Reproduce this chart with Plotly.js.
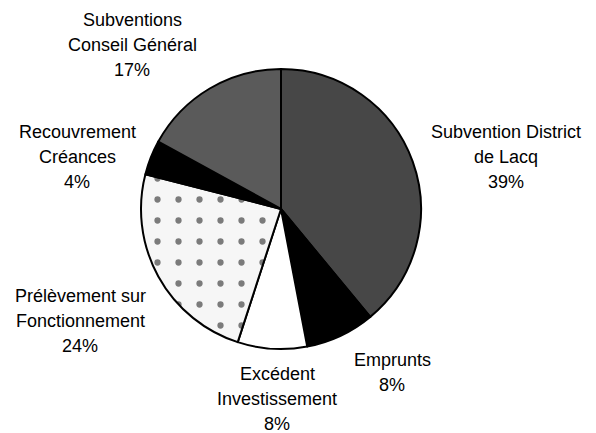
<!DOCTYPE html>
<html>
<head>
<meta charset="utf-8">
<script src="https://cdn.plot.ly/plotly-3.0.1.min.js"></script>
<style>html,body{margin:0;padding:0;background:#fff;}#chart{width:596px;height:433px;}</style>
</head>
<body>
<div id="chart"></div>
<script>
// ---- data ----
const categories = [
  "Subvention District<br>de Lacq",
  "Emprunts",
  "Excédent<br>Investissement",
  "Prélèvement sur<br>Fonctionnement",
  "Recouvrement<br>Créances",
  "Subventions<br>Conseil Général"
];
const values = [39, 8, 8, 24, 4, 17];

// ---- styles / layout (not data) ----
const sliceColors = ["#474747", "#000000", "#ffffff", "#f6f6f6", "#000000", "#5a5a5a"];
const slicePatterns = ["", "", "", ".", "", ""];
const labelCenters = [ // pixel x of text centre, pixel y of first line centre
  [506, 132], [392, 360], [277, 374], [80, 296], [77, 132], [132, 20]
];
const lineGap = 25;
const W = 596, H = 433;
const cx = 281, cy = 209, R = 140;

const total = values.reduce((a, b) => a + b, 0);
const annotations = [];
categories.forEach((c, i) => {
  const lines = c.split("<br>").concat([Math.round(values[i] / total * 100) + "%"]);
  lines.forEach((t, k) => {
    annotations.push({
      text: t, showarrow: false, xref: "paper", yref: "paper",
      x: labelCenters[i][0] / W, y: 1 - (labelCenters[i][1] + k * lineGap) / H,
      xanchor: "center", yanchor: "middle",
      font: {family: "Liberation Sans, Arial, sans-serif", size: 18, color: "#000"}
    });
  });
});

const trace = {
  type: "pie",
  labels: categories,
  values: values,
  sort: false,
  direction: "clockwise",
  rotation: 0,
  textinfo: "none",
  hoverinfo: "label+percent",
  domain: {x: [(cx - R) / W, (cx + R) / W], y: [(H - cy - R) / H, (H - cy + R) / H]},
  marker: {
    colors: sliceColors,
    line: {color: "#000", width: 2},
    pattern: {
      shape: slicePatterns,
      fgcolor: "#000",
      bgcolor: sliceColors,
      size: 21,
      solidity: 0.07,
      fillmode: "overlay"
    }
  }
};

Plotly.newPlot("chart", [trace], {
  width: W, height: H,
  margin: {l: 0, r: 0, t: 0, b: 0},
  paper_bgcolor: "#fff",
  showlegend: false,
  annotations: annotations
}, {staticPlot: true});
</script>
</body>
</html>
